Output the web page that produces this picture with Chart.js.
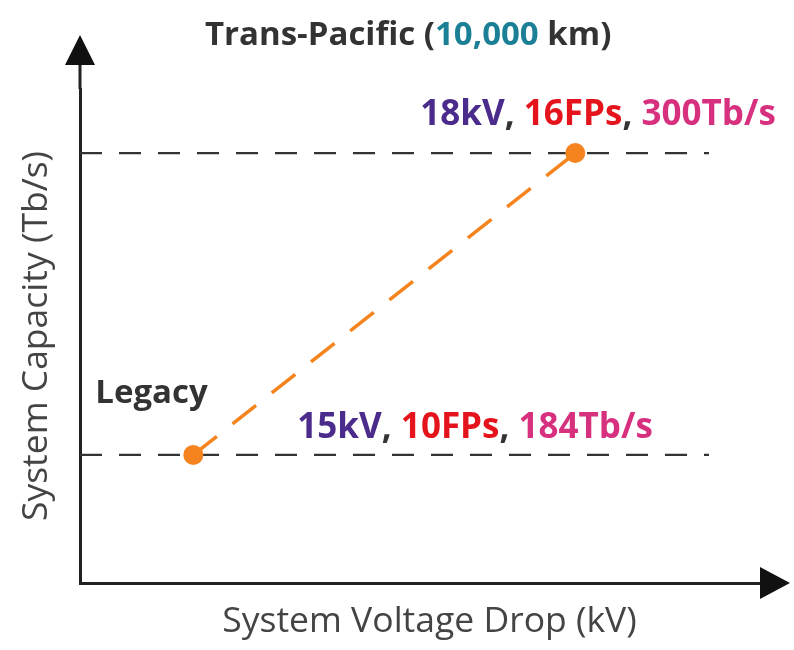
<!DOCTYPE html>
<html>
<head>
<meta charset="utf-8">
<script src="https://cdn.jsdelivr.net/npm/chart.js@4/dist/chart.umd.min.js"></script>
<style>
  html, body { margin: 0; padding: 0; background: #fff; }
  #wrap { width: 794px; height: 650px; }
</style>
</head>
<body>
<div id="wrap"><canvas id="capChart" width="794" height="650"></canvas></div>
<script>
// Data
var voltage = [15, 18];          // kV
var capacity = [184, 300];       // Tb/s
var fiberPairs = [10, 16];
var pointNames = ['Legacy', ''];
var refLineEnd = 19.05;          // where the dashed guide lines stop (kV)

var xMin = 14.11, xMax = 19.6;
var yMin = 134.8, yMax = 324.6;

var purple = '#4b2b8c', red = '#e5141c', pink = '#d6307f', teal = '#1b8096';
var orange = '#f5841f';
var FONT = '"Open Sans", Lato, sans-serif';

function guide(y) {
    return {
        type: 'line',
        data: [{x: xMin, y: y}, {x: refLineEnd, y: y}],
        borderColor: '#333',
        borderWidth: 2.2,
        borderDash: [22, 17],
        pointRadius: 0,
        order: 2
    };
}

var datasets = [
    guide(capacity[0]),
    guide(capacity[1]),
    {
        type: 'line',
        data: voltage.map(function(v, i) { return {x: v, y: capacity[i]}; }),
        borderColor: orange,
        borderWidth: 3.5,
        borderDash: [30, 20],
        pointRadius: 10,
        pointBackgroundColor: orange,
        pointBorderWidth: 0,
        order: 1
    }
];

// draw coloured text made of several pieces
function drawPieces(ctx, pieces, x, y, font) {
    ctx.font = font;
    pieces.forEach(function(p) {
        ctx.fillStyle = p[1];
        ctx.fillText(p[0], x, y);
        x += ctx.measureText(p[0]).width;
    });
}

var arrowsAndLabels = {
    id: 'arrowsAndLabels',
    afterDraw: function(chart) {
        var ctx = chart.ctx, a = chart.chartArea;
        var xs = chart.scales.x, ys = chart.scales.y;
        ctx.save();
        // axis arrows
        ctx.strokeStyle = '#222';
        ctx.fillStyle = '#111';
        ctx.lineWidth = 3;
        ctx.beginPath();
        ctx.moveTo(a.left, a.top);
        ctx.lineTo(a.left, 60);
        ctx.stroke();
        ctx.beginPath();
        ctx.moveTo(a.left, 35);
        ctx.lineTo(a.left - 15, 65);
        ctx.lineTo(a.left + 15, 65);
        ctx.closePath();
        ctx.fill();
        ctx.beginPath();
        ctx.moveTo(790, a.bottom);
        ctx.lineTo(760, a.bottom - 16);
        ctx.lineTo(760, a.bottom + 16);
        ctx.closePath();
        ctx.fill();

        ctx.textBaseline = 'middle';
        ctx.textAlign = 'left';
        var big = 'bold 35px ' + FONT;

        // title
        drawPieces(ctx, [['Trans-Pacific (', '#333'], ['10,000', teal], [' km)', '#333']], 205, 36, 'bold 33px ' + FONT);

        // point annotations
        var x0 = xs.getPixelForValue(voltage[0]), y0 = ys.getPixelForValue(capacity[0]);
        var x1 = xs.getPixelForValue(voltage[1]), y1 = ys.getPixelForValue(capacity[1]);
        drawPieces(ctx, [[pointNames[0], '#333']], x0 - 98, y0 - 61, 'bold 33px ' + FONT);
        drawPieces(ctx, [
            [voltage[0] + 'kV', purple], [', ', '#333'],
            [fiberPairs[0] + 'FPs', red], [', ', '#333'],
            [capacity[0] + 'Tb/s', pink]
        ], x0 + 104, y0 - 27, big);
        drawPieces(ctx, [
            [voltage[1] + 'kV', purple], [', ', '#333'],
            [fiberPairs[1] + 'FPs', red], [', ', '#333'],
            [capacity[1] + 'Tb/s', pink]
        ], x1 - 155, y1 - 38, big);
        ctx.restore();
    }
};

new Chart(document.getElementById('capChart').getContext('2d'), {
    data: { datasets: datasets },
    options: {
        responsive: false,
        animation: false,
        layout: { padding: { top: 89, right: 15, left: 0, bottom: 0 } },
        plugins: { legend: { display: false }, tooltip: { enabled: false } },
        scales: {
            x: {
                type: 'linear', min: xMin, max: xMax,
                ticks: { display: false },
                grid: { display: false, drawTicks: false },
                border: { display: true, color: '#222', width: 3 },
                title: {
                    display: true, text: 'System Voltage Drop (kV)', color: '#444',
                    font: { family: FONT, size: 35.5 }, padding: { top: 17.7, bottom: 6.7 }
                }
            },
            y: {
                type: 'linear', min: yMin, max: yMax,
                ticks: { display: false },
                grid: { display: false, drawTicks: false },
                border: { display: true, color: '#222', width: 3 },
                title: {
                    display: true, text: 'System Capacity (Tb/s)', color: '#444',
                    font: { family: FONT, size: 35.5 }, padding: { top: 15.7, bottom: 21.7 }
                }
            }
        }
    },
    plugins: [arrowsAndLabels]
});
</script>
</body>
</html>
